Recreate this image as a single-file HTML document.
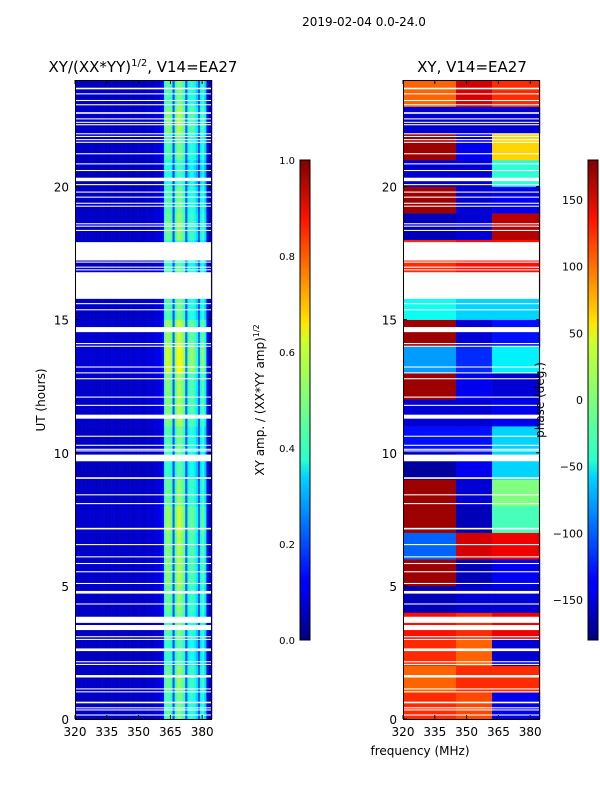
<!DOCTYPE html>
<html><head><meta charset="utf-8">
<style>
body{margin:0;background:#fff;}
svg{display:block;font-family:"DejaVu Sans","Liberation Sans",sans-serif;}
</style></head>
<body>
<svg id="fig" width="600" height="800" viewBox="0 0 600 800">
<defs>
<linearGradient id="jet" x1="0" y1="1" x2="0" y2="0">
<stop offset="0" stop-color="#00007f"/><stop offset="0.11" stop-color="#0000ff"/>
<stop offset="0.125" stop-color="#0000ff"/><stop offset="0.34" stop-color="#00d4ff"/>
<stop offset="0.375" stop-color="#29ffce"/><stop offset="0.5" stop-color="#7dff7a"/>
<stop offset="0.625" stop-color="#ceff29"/><stop offset="0.66" stop-color="#ffe500"/>
<stop offset="0.875" stop-color="#ff1400"/><stop offset="1" stop-color="#7f0000"/>
</linearGradient>
</defs>
<text x="364" y="26" font-size="12" text-anchor="middle">2019-02-04 0.0-24.0</text>
<text x="143" y="72" font-size="15" text-anchor="middle">XY/(XX*YY)<tspan font-size="10" dy="-6">1/2</tspan><tspan dy="6">, V14=EA27</tspan></text>
<text x="472" y="72" font-size="15" text-anchor="middle">XY, V14=EA27</text>
<g id="ampPanel"></g>
<g id="phPanel"></g>
<g id="axes"></g>
<text transform="translate(45,400) rotate(-90)" font-size="12" text-anchor="middle">UT (hours)</text>
<text transform="translate(264,400) rotate(-90)" font-size="12" text-anchor="middle">XY amp. / (XX*YY amp)<tspan font-size="8" dy="-5">1/2</tspan></text>
<text transform="translate(544,400) rotate(-90)" font-size="12" text-anchor="middle">phase (deg.)</text>
<text x="420" y="755" font-size="12" text-anchor="middle">frequency (MHz)</text>
<rect x="300" y="160" width="10" height="480" fill="url(#jet)" stroke="#000" stroke-width="1"/>
<rect x="588" y="160" width="10" height="480" fill="url(#jet)" stroke="#000" stroke-width="1"/>
<g id="cbticks"></g>
</svg>
<script>
const ampChannelMHz = [];
for (let f = 320; f <= 384; f++) ampChannelMHz.push(f);
const ampChannelBase = [0.07,0.06,0.07,0.07,0.06,0.06,0.07,0.07,0.07,0.06,0.06,0.07,0.07,0.07,0.06,0.07,0.06,0.07,0.07,0.06,0.07,0.06,0.07,0.07,0.07,0.06,0.07,0.06,0.07,0.07,0.07,0.07,0.06,0.07,0.07,0.08,0.07,0.08,0.08,0.09,0.10,0.12,
0.42,0.46,0.46,0.42,0.20,0.42,0.50,0.50,0.46,0.42,0.20,0.38,0.42,0.42,0.38,0.33,0.20,0.38,0.42,0.33,0.10,0.08,0.08];
const ampHourFactor = [1.0,1.05,0.95,1.0,1.05,1.1,1.1,1.15,1.05,0.95,1.0,1.1,1.1,1.25,1.15,1.0,1.0,0.95,1.05,1.0,0.9,1.0,1.1,1.0];
const phaseLowHour = [120,100,120,130,-160,170,-100,170,170,-170,-130,-150,170,-80,170,-40,120,120,-160,170,-150,170,-150,100];
const phaseMidHour = [110,120,100,120,-150,-160,150,-160,-150,-140,-130,-150,-140,-120,-150,-60,130,130,-150,-150,-150,-140,-150,150];
const phaseHighHour = [-140,120,-150,140,-150,-140,140,-20,0,-60,-60,-140,-150,-50,-130,-60,130,130,160,-140,-30,60,-150,120];
const flaggedHours = [[23.65,23.71],[23.46,23.5],[23.21,23.25],[23.05,23.09],[22.73,22.79],[22.52,22.56],[22.39,22.43],[22.3,22.34],[21.96,22.0],[21.86,21.9],[21.74,21.78],[21.64,21.68],[21.21,21.25],[20.83,20.87],[20.58,20.62],[20.2,20.33],[20.05,20.09],[19.77,19.81],[19.58,19.62],[19.35,19.39],[19.24,19.28],[18.58,18.62],[18.49,18.53],[18.33,18.37],[17.22,17.91],[17.14,17.18],[16.95,16.99],[16.85,16.89],[15.78,16.78],[15.58,15.62],[15.35,15.39],[14.53,14.72],[14.08,14.12],[13.98,14.02],[13.2,13.24],[12.98,13.02],[12.76,12.8],[12.07,12.11],[11.76,11.8],[11.28,11.43],[10.6,10.64],[10.26,10.3],[10.11,10.15],[10.05,10.09],[9.68,9.93],[9.02,9.08],[8.4,8.44],[8.07,8.11],[7.12,7.18],[6.53,6.57],[6.07,6.11],[5.82,5.86],[5.51,5.55],[5.07,5.11],[4.71,4.81],[4.3,4.34],[3.61,3.84],[3.34,3.53],[3.07,3.11],[2.97,3.01],[2.55,2.65],[2.13,2.17],[2.03,2.07],[1.56,1.65],[1.11,1.15],[1.0,1.04],[0.59,0.65],[0.4,0.44],[0.32,0.36],[0.13,0.17]];
const yTicks = [0,5,10,15,20];
const xTicks = [320,335,350,365,380];
const ampCbTicks = [0.0,0.2,0.4,0.6,0.8,1.0];
const phCbTicks = [-150,-100,-50,0,50,100,150];

const NS = "http://www.w3.org/2000/svg";
const Y0 = 719, Y1 = 80;
function yScale(h){ return Y0 - (h/24)*(Y0-Y1); }
function makeX(left){ return f => left + (f-320)*2.12; }
const xL = makeX(75), xR = makeX(403);
const FMAX = 384.6;
function jet(v){
  v = Math.max(0, Math.min(1, v));
  const r = Math.max(0, Math.min(1, 1.5 - Math.abs(4*v-3)));
  const g = Math.max(0, Math.min(1, 1.5 - Math.abs(4*v-2)));
  const b = Math.max(0, Math.min(1, 1.5 - Math.abs(4*v-1)));
  return `rgb(${Math.round(r*255)},${Math.round(g*255)},${Math.round(b*255)})`;
}
function rect(g,x,y,w,h,fill,name){
  const r = document.createElementNS(NS,"rect");
  r.setAttribute("x",x); r.setAttribute("y",y); r.setAttribute("width",w); r.setAttribute("height",h);
  r.setAttribute("fill",fill);
  
  
  g.appendChild(r); return r;
}
const ampG = document.getElementById("ampPanel");
for (let hr = 0; hr < 24; hr++) {
  for (let c = 0; c < ampChannelMHz.length; c++) {
    const f0 = ampChannelMHz[c], f1 = Math.min(f0+1, FMAX);
    const v = ampChannelBase[c] * ampHourFactor[hr];
    rect(ampG, xL(f0), yScale(hr+1), xL(f1)-xL(f0)+0.3, yScale(hr)-yScale(hr+1)+0.3, jet(v), 'amp-cell');
  }
}
const phG = document.getElementById("phPanel");
const regions = [[320,345,phaseLowHour],[345,362,phaseMidHour],[362,FMAX,phaseHighHour]];
for (let hr = 0; hr < 24; hr++) {
  regions.forEach(([a,b,arr]) => {
    const v = (arr[hr] + 180) / 360;
    rect(phG, xR(a), yScale(hr+1), xR(b)-xR(a)+0.3, yScale(hr)-yScale(hr+1)+0.3, jet(v), 'phase-cell');
  });
}
[[ampG,xL],[phG,xR]].forEach(([g,xs]) => {
  flaggedHours.forEach(([a,b]) => {
    rect(g, xs(320), yScale(b), xs(FMAX)-xs(320), Math.max(1, yScale(a)-yScale(b)), "#fff", 'flagged-row');
  });
});
const ax = document.getElementById("axes");
function line(x1,y1,x2,y2,name){
  const l = document.createElementNS(NS,"line");
  l.setAttribute("x1",x1);l.setAttribute("y1",y1);l.setAttribute("x2",x2);l.setAttribute("y2",y2);
  l.setAttribute("stroke","#000");l.setAttribute("stroke-width","1");
  
  
  ax.appendChild(l);
}
function text(x,y,s,anchor,size,name){
  const t = document.createElementNS(NS,"text");
  t.setAttribute("x",x);t.setAttribute("y",y);t.setAttribute("text-anchor",anchor);t.setAttribute("font-size",size);
  t.textContent = s;
  
  
  ax.appendChild(t);
}
[[75,xL],[403,xR]].forEach(([left,xs]) => {
  const fr = document.createElementNS(NS,"rect");
  fr.setAttribute("x",left+0.5);fr.setAttribute("y",Y1+0.5);fr.setAttribute("width",xs(FMAX)-left-1);fr.setAttribute("height",Y0-Y1);
  fr.setAttribute("fill","none");fr.setAttribute("stroke","#000");
  
  
  ax.appendChild(fr);
  yTicks.forEach(h => {
    const y = yScale(h);
    line(left, y, left+4, y, 'y-tick');
    line(xs(FMAX)-4, y, xs(FMAX), y, 'y-tick');
    text(left-6, y+5, String(h), "end", 12, 'y-tick-label');
  });
  xTicks.forEach(f => {
    const x = xs(f);
    line(x, Y0, x, Y0-4, 'x-tick');
    line(x, Y1, x, Y1+4, 'x-tick');
    text(x, Y0+17, String(f), "middle", 12, 'x-tick-label');
  });
});
const cb = document.getElementById("cbticks");
ampCbTicks.forEach(v => {
  const y = 640 - v*480;
  line(300, y, 310, y, 'amp-colorbar-tick');
  text(295, y+4, v.toFixed(1), "end", 10, 'amp-colorbar-tick-label');
});
phCbTicks.forEach(v => {
  const y = 640 - (v+180)/360*480;
  line(588, y, 598, y, 'phase-colorbar-tick');
  text(583, y+4, String(v).replace('-', '\u2212'), "end", 11, 'phase-colorbar-tick-label');
});
</script>
</body></html>
